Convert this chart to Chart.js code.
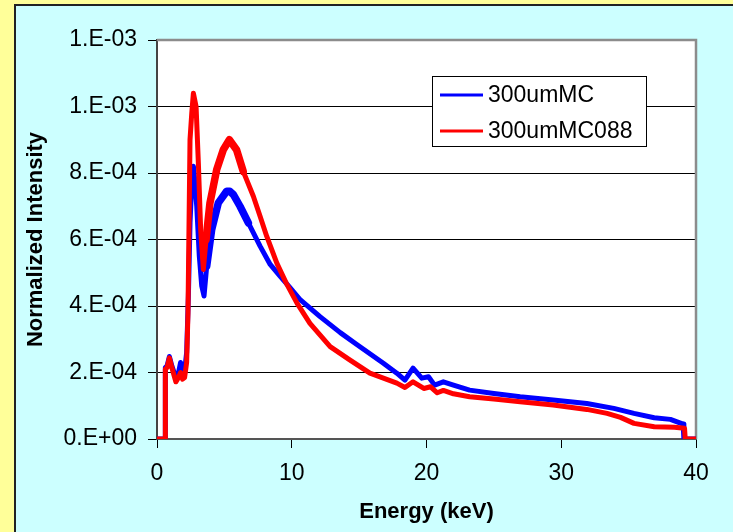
<!DOCTYPE html>
<html>
<head>
<meta charset="utf-8">
<script src="https://cdn.jsdelivr.net/npm/chart.js@4"></script>
<style>
  html, body { margin: 0; padding: 0; }
  body { width: 733px; height: 532px; background: #ffff99; position: relative; overflow: hidden; }
  #frame { position: absolute; left: 14px; top: 4px; width: 740px; height: 540px;
           background: #ccffff; border-left: 2px solid #222; border-top: 2px solid #222; }
  #wrap { position: absolute; left: 0; top: 0; width: 733px; height: 532px; }
</style>
</head>
<body>
<div id="frame"></div>
<div id="wrap"><canvas id="spectrumChart" width="733" height="532"></canvas></div>
<script>
// Energy (keV) and normalized intensity
const blueEnergy = [0, 0.6, 0.62, 0.75, 0.92, 1.1, 1.4, 1.6, 1.75, 1.9, 2.05, 2.2, 2.33, 2.45, 2.57, 2.7, 2.8, 2.95,
  3.14, 3.32, 3.49, 3.69, 4.06, 4.55, 5.17, 5.4, 5.67, 6.16, 6.78, 7.65, 8.4, 9.13, 9.87, 10.6, 12.1, 13.6, 14.8,
  16.8, 17.8, 18.4, 19.0, 19.65, 20.15, 20.6, 21.25, 22.0, 23.2, 25.0, 26.95, 29.4, 31.9, 33.9, 35.4, 36.9, 38.1,
  38.7, 39.05, 39.1, 40];
const blueIntensity = [0, 0, 2.15e-4, 2.2e-4, 2.48e-4, 2.2e-4, 1.85e-4, 2.0e-4, 2.3e-4, 2.0e-4, 2.05e-4, 2.6e-4,
  4.3e-4, 6.5e-4, 7.6e-4, 8.2e-4, 7.8e-4, 7.0e-4, 5.5e-4, 4.6e-4, 4.3e-4, 5.2e-4, 6.3e-4, 7.1e-4, 7.45e-4, 7.45e-4,
  7.35e-4, 7.0e-4, 6.5e-4, 5.8e-4, 5.25e-4, 4.9e-4, 4.55e-4, 4.2e-4, 3.68e-4, 3.2e-4, 2.85e-4, 2.28e-4, 1.98e-4,
  1.77e-4, 2.13e-4, 1.83e-4, 1.87e-4, 1.62e-4, 1.72e-4, 1.62e-4, 1.47e-4, 1.37e-4, 1.27e-4, 1.17e-4, 1.07e-4,
  9.2e-5, 7.7e-5, 6.4e-5, 5.9e-5, 5.0e-5, 4.5e-5, 0, 0];

const redEnergy = [0, 0.6, 0.62, 0.75, 0.92, 1.1, 1.4, 1.6, 1.75, 1.9, 2.05, 2.2, 2.3, 2.45, 2.58, 2.7, 2.9, 3.07,
  3.24, 3.44, 3.64, 3.93, 4.43, 4.92, 5.37, 5.9, 6.4, 7.15, 7.65, 8.14, 8.9, 9.6, 10.4, 11.35, 12.85, 14.3, 15.8,
  16.8, 17.8, 18.4, 19.0, 19.8, 20.3, 20.8, 21.25, 22.0, 23.2, 25.0, 26.95, 29.4, 31.9, 33.4, 34.4, 35.4, 36.9,
  38.4, 39.15, 39.2, 40];
const redIntensity = [0, 0, 2.1e-4, 2.15e-4, 2.44e-4, 2.15e-4, 1.72e-4, 1.85e-4, 2.0e-4, 1.8e-4, 1.85e-4, 2.3e-4,
  3.8e-4, 9.0e-4, 9.8e-4, 1.04e-3, 1.0e-3, 8.3e-4, 6.3e-4, 5.1e-4, 6.0e-4, 7.1e-4, 8.1e-4, 8.7e-4, 9.0e-4, 8.7e-4,
  8.05e-4, 7.3e-4, 6.7e-4, 6.1e-4, 5.28e-4, 4.68e-4, 4.08e-4, 3.48e-4, 2.78e-4, 2.38e-4, 1.98e-4, 1.83e-4, 1.68e-4,
  1.55e-4, 1.72e-4, 1.52e-4, 1.57e-4, 1.39e-4, 1.46e-4, 1.36e-4, 1.27e-4, 1.2e-4, 1.12e-4, 1.02e-4, 8.9e-5, 7.7e-5,
  6.5e-5, 4.7e-5, 3.7e-5, 3.5e-5, 3.2e-5, 0, 0];

const seriesNames = ["300umMC", "300umMC088"];
const seriesColors = ["#0000ff", "#ff0000"];
const yTickLabels = ["0.E+00", "2.E-04", "4.E-04", "6.E-04", "8.E-04", "1.E-03", "1.E-03"];

const toPoints = (xs, ys) => xs.map((x, i) => ({ x: x, y: ys[i] }));

// noisy band around the main hump is drawn a bit thicker
const bandWidth = ctx => (ctx.p0.parsed.x >= 3.6 && ctx.p1.parsed.x <= 7.0) ? 7.5 : 5;

// white plot area + grey frame on top/right
const plotFrame = {
  id: "plotFrame",
  beforeDraw(chart) {
    const a = chart.chartArea, c = chart.ctx;
    c.save();
    c.fillStyle = "#ffffff";
    c.fillRect(a.left, a.top, a.right - a.left, a.bottom - a.top);
    c.restore();
  },
  beforeDatasetsDraw(chart) {
    const a = chart.chartArea, c = chart.ctx;
    c.save();
    c.strokeStyle = "#8c8c8c";
    c.lineWidth = 2.5;
    c.beginPath();
    c.moveTo(a.left, a.top);
    c.lineTo(a.right, a.top);
    c.lineTo(a.right, a.bottom);
    c.stroke();
    c.restore();
  }
};

// legend box inside the plot, like the original
const boxLegend = {
  id: "boxLegend",
  afterDraw(chart) {
    const c = chart.ctx;
    const x0 = 432, y0 = 76, w = 214, h = 70;
    c.save();
    c.fillStyle = "#ffffff";
    c.fillRect(x0, y0, w, h);
    c.strokeStyle = "#000000";
    c.lineWidth = 1;
    c.strokeRect(x0 + 0.5, y0 + 0.5, w, h);
    c.font = "23px 'Liberation Sans', Arial, sans-serif";
    c.textBaseline = "middle";
    c.fillStyle = "#000000";
    chart.data.datasets.forEach((ds, i) => {
      const y = 95 + i * 36;
      c.strokeStyle = ds.borderColor;
      c.lineWidth = 3;
      c.beginPath();
      c.moveTo(440, y);
      c.lineTo(483, y);
      c.stroke();
      c.fillText(ds.label, 488, y + 1);
    });
    c.restore();
  }
};

const spectrumChart = document.getElementById("spectrumChart");

new Chart(spectrumChart, {
  type: "line",
  data: {
    datasets: [
      {
        label: seriesNames[0],
        data: toPoints(blueEnergy, blueIntensity),
        borderColor: seriesColors[0],
        borderWidth: 5,
        segment: { borderWidth: bandWidth },
        order: 2,
      },
      {
        label: seriesNames[1],
        data: toPoints(redEnergy, redIntensity),
        borderColor: seriesColors[1],
        borderWidth: 5,
        segment: { borderWidth: bandWidth },
        order: 1,
      },
    ],
  },
  options: {
    responsive: false,
    animation: false,
    events: [],
    layout: { padding: { top: 40, right: 37, left: 0, bottom: 0 } },
    elements: {
      point: { radius: 0 },
      line: { tension: 0, borderJoinStyle: "round", borderCapStyle: "round" },
    },
    plugins: {
      legend: { display: false },
      tooltip: { enabled: false },
    },
    scales: {
      x: {
        type: "linear",
        min: 0,
        max: 40,
        afterFit: s => { s.height = 93; },
        ticks: {
          stepSize: 10,
          color: "#000",
          padding: 12,
          maxRotation: 0,
          font: { family: "'Liberation Sans', Arial, sans-serif", size: 23 },
        },
        grid: { drawOnChartArea: false, drawTicks: true, tickLength: 9, color: "#000" },
        border: { color: "#555", width: 2 },
        title: {
          display: true,
          text: "Energy (keV)",
          color: "#000",
          padding: { top: 0, bottom: 7 },
          font: { family: "'Liberation Sans', Arial, sans-serif", size: 22, weight: "bold" },
        },
      },
      y: {
        min: 0,
        max: 1.2e-3,
        afterFit: s => { s.width = 157; },
        ticks: {
          stepSize: 2e-4,
          color: "#000",
          padding: 11,
          font: { family: "'Liberation Sans', Arial, sans-serif", size: 23 },
          callback: (value, index) => yTickLabels[index],
        },
        grid: { color: "#000", lineWidth: 1, tickLength: 9 },
        border: { color: "#444", width: 2 },
        title: {
          display: true,
          text: "Normalized Intensity",
          color: "#000",
          padding: { top: 23, bottom: 0 },
          font: { family: "'Liberation Sans', Arial, sans-serif", size: 22, weight: "bold" },
        },
      },
    },
  },
  plugins: [plotFrame, boxLegend],
});
</script>
</body>
</html>
